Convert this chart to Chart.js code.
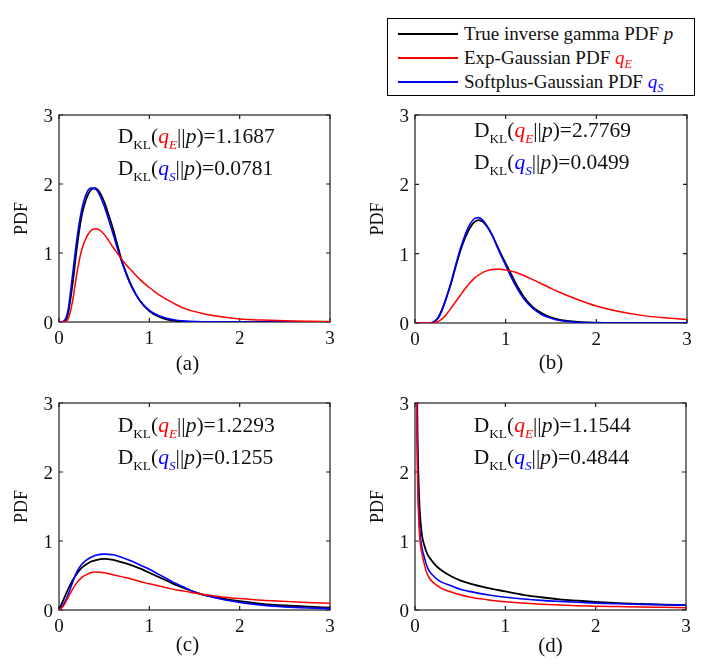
<!DOCTYPE html>
<html>
<head>
<meta charset="utf-8">
<title>Inverse gamma PDF approximations</title>
<script src="https://cdn.jsdelivr.net/npm/chart.js@4.4.0/dist/chart.umd.min.js"></script>
<style>
  body { margin: 0; width: 706px; height: 665px; position: relative; overflow: hidden; background: #fff; font-family: "Liberation Serif", "Times New Roman", serif; }
  canvas { position: absolute; }
  #leyenda { position: absolute; left: 387px; top: 18px; width: 308px; height: 78px; border: 1px solid #000; box-sizing: border-box; background: #fff; }
  .fila { position: absolute; left: 0; height: 24px; width: 100%; }
  .raya { position: absolute; left: 10px; top: 11px; width: 60px; height: 2px; }
  .etiqueta { position: absolute; left: 76px; top: 0; line-height: 24px; font-size: 19px; color: #111; white-space: nowrap; }
  .etiqueta i { font-style: italic; }
  .etiqueta sub { font-size: 0.65em; vertical-align: -0.3em; line-height: 0; }
</style>
</head>
<body>
<div id="leyenda"></div>
<script>
// ticks and labels
const ejeX = [0, 1, 2, 3];
const ejeY = [0, 1, 2, 3];
const paneles = ['(a)', '(b)', '(c)', '(d)'];
const klExp = [1.1687, 2.7769, 1.2293, 1.1544];
const klSoft = [0.0781, 0.0499, 0.1255, 0.4844];

// (a)
const xA = [0, 0.05, 0.1, 0.15, 0.2, 0.25, 0.3, 0.35, 0.4, 0.45, 0.5, 0.55, 0.6, 0.65, 0.7, 0.75, 0.8, 0.9, 1.0, 1.1, 1.2, 1.3, 1.4, 1.6, 1.8, 2.0, 2.25, 2.5, 2.75, 3.0];
const trueA = [0, 0, 0.12, 0.55, 1.1, 1.53, 1.78, 1.91, 1.94, 1.88, 1.74, 1.55, 1.34, 1.1, 0.87, 0.69, 0.53, 0.3, 0.16, 0.08, 0.035, 0.015, 0.006, 0.001, 0, 0, 0, 0, 0, 0];
const expA = [0, 0, 0.04, 0.3, 0.72, 1.04, 1.22, 1.32, 1.35, 1.33, 1.27, 1.18, 1.08, 0.99, 0.9, 0.82, 0.75, 0.61, 0.5, 0.4, 0.32, 0.25, 0.19, 0.12, 0.075, 0.045, 0.028, 0.017, 0.011, 0.007];
const softA = [0, 0.01, 0.17, 0.68, 1.22, 1.62, 1.85, 1.94, 1.93, 1.84, 1.68, 1.48, 1.27, 1.05, 0.85, 0.67, 0.52, 0.3, 0.17, 0.095, 0.05, 0.025, 0.012, 0.003, 0.001, 0, 0, 0, 0, 0];

// (b)
const xB = [0, 0.1, 0.15, 0.2, 0.25, 0.3, 0.35, 0.4, 0.45, 0.5, 0.55, 0.6, 0.65, 0.7, 0.75, 0.8, 0.85, 0.9, 0.95, 1.0, 1.05, 1.1, 1.2, 1.3, 1.4, 1.5, 1.6, 1.8, 2.0, 2.25, 2.5, 2.75, 3.0];
const trueB = [0, 0, 0, 0.01, 0.07, 0.2, 0.38, 0.58, 0.82, 1.04, 1.22, 1.36, 1.45, 1.485, 1.46, 1.38, 1.27, 1.13, 0.99, 0.86, 0.73, 0.6, 0.38, 0.23, 0.14, 0.08, 0.045, 0.015, 0.005, 0.001, 0, 0, 0];
const expB = [0, 0, 0, 0, 0.02, 0.06, 0.13, 0.22, 0.31, 0.4, 0.49, 0.57, 0.64, 0.69, 0.73, 0.755, 0.77, 0.776, 0.775, 0.765, 0.752, 0.735, 0.685, 0.625, 0.563, 0.5, 0.44, 0.335, 0.245, 0.165, 0.11, 0.075, 0.05];
const softB = [0, 0, 0, 0.01, 0.06, 0.19, 0.38, 0.6, 0.84, 1.07, 1.26, 1.41, 1.5, 1.52, 1.48, 1.39, 1.27, 1.12, 0.97, 0.83, 0.69, 0.56, 0.35, 0.21, 0.12, 0.07, 0.035, 0.008, 0.002, 0, 0, 0, 0];

// (c)
const xC = [0, 0.05, 0.1, 0.15, 0.2, 0.25, 0.3, 0.35, 0.4, 0.5, 0.6, 0.7, 0.8, 0.9, 1.0, 1.1, 1.2, 1.3, 1.4, 1.5, 1.6, 1.8, 2.0, 2.25, 2.5, 2.75, 3.0];
const trueC = [0, 0.15, 0.3, 0.43, 0.53, 0.61, 0.66, 0.7, 0.72, 0.74, 0.725, 0.69, 0.65, 0.6, 0.54, 0.48, 0.42, 0.36, 0.31, 0.26, 0.22, 0.17, 0.13, 0.09, 0.065, 0.048, 0.035];
const expC = [0, 0.06, 0.18, 0.3, 0.4, 0.47, 0.51, 0.54, 0.55, 0.54, 0.51, 0.48, 0.45, 0.41, 0.38, 0.35, 0.32, 0.29, 0.27, 0.245, 0.225, 0.19, 0.165, 0.14, 0.125, 0.11, 0.098];
const softC = [0, 0.08, 0.22, 0.4, 0.56, 0.66, 0.72, 0.76, 0.79, 0.81, 0.8, 0.76, 0.71, 0.65, 0.59, 0.52, 0.45, 0.38, 0.32, 0.26, 0.22, 0.155, 0.11, 0.07, 0.045, 0.03, 0.02];

// (d)
const xD = [0.012, 0.02, 0.03, 0.04, 0.05, 0.06, 0.08, 0.1, 0.13, 0.16, 0.2, 0.25, 0.3, 0.4, 0.5, 0.6, 0.8, 1.0, 1.2, 1.4, 1.6, 1.8, 2.0, 2.25, 2.5, 2.75, 3.0];
const trueD = [5, 3.4, 2.4, 1.85, 1.5, 1.3, 1.06, 0.95, 0.83, 0.76, 0.69, 0.62, 0.57, 0.49, 0.43, 0.385, 0.32, 0.27, 0.22, 0.185, 0.155, 0.135, 0.117, 0.1, 0.088, 0.078, 0.07];
const expD = [4.0, 2.7, 1.8, 1.35, 1.1, 0.95, 0.8, 0.68, 0.54, 0.46, 0.4, 0.35, 0.31, 0.26, 0.22, 0.19, 0.15, 0.118, 0.1, 0.085, 0.072, 0.063, 0.056, 0.05, 0.044, 0.039, 0.034];
const softD = [4.5, 3.0, 2.0, 1.5, 1.22, 1.05, 0.88, 0.78, 0.64, 0.56, 0.5, 0.44, 0.4, 0.35, 0.3, 0.27, 0.22, 0.185, 0.16, 0.14, 0.125, 0.112, 0.1, 0.09, 0.082, 0.076, 0.07];

const ROJO = '#ff0000';
const AZUL = '#0000ff';
const NEGRO = '#000000';
const FUENTE = '"Liberation Serif", "Times New Roman", serif';

// where each plot box sits on the page
const cajas = [
    { left: 59, top: 115, right: 330, bottom: 322, capDx: -7, capDy: 42, txtY: [2.70, 2.23] },
    { left: 415, top: 115, right: 687, bottom: 323, capDx: 0, capDy: 40, txtY: [2.78, 2.32] },
    { left: 59, top: 403, right: 330, bottom: 610, capDx: -7, capDy: 35, txtY: [2.68, 2.22] },
    { left: 415, top: 403, right: 686, bottom: 610, capDx: 0, capDy: 36, txtY: [2.68, 2.22] }
];

function armarLeyenda() {
    const filas = [
        { color: NEGRO, html: 'True inverse gamma PDF <i>p</i>' },
        { color: ROJO, html: 'Exp-Gaussian PDF <i style="color:' + ROJO + '">q<sub><i>E</i></sub></i>' },
        { color: AZUL, html: 'Softplus-Gaussian PDF <i style="color:' + AZUL + '">q<sub><i>S</i></sub></i>' }
    ];
    const caja = document.getElementById('leyenda');
    filas.forEach((f, i) => {
        const fila = document.createElement('div');
        fila.className = 'fila';
        fila.style.top = (3 + i * 24) + 'px';
        fila.innerHTML = '<div class="raya" style="background:' + f.color + '"></div><div class="etiqueta">' + f.html + '</div>';
        caja.appendChild(fila);
    });
}

function textoRico(ctx, partes, x, yBase, size) {
    let px = x;
    partes.forEach(p => {
        const s = p.sub ? size * 0.62 : size;
        ctx.font = (p.it ? 'italic ' : '') + s + 'px ' + FUENTE;
        ctx.fillStyle = p.color || '#111';
        ctx.fillText(p.t, px, yBase + (p.sub ? size * 0.27 : 0));
        px += ctx.measureText(p.t).width;
    });
}

// box and inward ticks like matlab
const marco = {
    id: 'marco',
    beforeDatasetsDraw(chart) {
        const { ctx, chartArea: a, scales: { x, y } } = chart;
        ctx.save();
        ctx.strokeStyle = '#1e1e1e';
        ctx.lineWidth = 1.2;
        ctx.strokeRect(a.left, a.top, a.width, a.height);
        ctx.beginPath();
        ejeX.forEach(v => {
            const px = x.getPixelForValue(v);
            ctx.moveTo(px, a.bottom); ctx.lineTo(px, a.bottom - 4);
            ctx.moveTo(px, a.top); ctx.lineTo(px, a.top + 4);
        });
        ejeY.forEach(v => {
            const py = y.getPixelForValue(v);
            ctx.moveTo(a.left, py); ctx.lineTo(a.left + 4, py);
            ctx.moveTo(a.right, py); ctx.lineTo(a.right - 4, py);
        });
        ctx.stroke();
        ctx.restore();
    }
};

const anotaciones = {
    id: 'anotaciones',
    afterDraw(chart) {
        const i = chart.options.plugins.anotaciones.indice;
        const c = cajas[i];
        const { ctx, chartArea: a, scales: { x, y } } = chart;
        const size = 21.5;
        const lineaE = [
            { t: 'D' }, { t: 'KL', sub: true }, { t: '(' },
            { t: 'q', it: true, color: ROJO }, { t: 'E', it: true, sub: true, color: ROJO },
            { t: '||' }, { t: 'p', it: true }, { t: ')=' + klExp[i].toFixed(4) }
        ];
        const lineaS = [
            { t: 'D' }, { t: 'KL', sub: true }, { t: '(' },
            { t: 'q', it: true, color: AZUL }, { t: 'S', it: true, sub: true, color: AZUL },
            { t: '||' }, { t: 'p', it: true }, { t: ')=' + klSoft[i].toFixed(4) }
        ];
        ctx.save();
        ctx.textBaseline = 'alphabetic';
        ctx.textAlign = 'left';
        const x0 = x.getPixelForValue(0.65);
        textoRico(ctx, lineaE, x0, y.getPixelForValue(c.txtY[0]) + size * 0.33, size);
        textoRico(ctx, lineaS, x0, y.getPixelForValue(c.txtY[1]) + size * 0.33, size);

        // panel caption
        ctx.font = '21px ' + FUENTE;
        ctx.fillStyle = '#111';
        ctx.textAlign = 'center';
        ctx.textBaseline = 'middle';
        ctx.fillText(paneles[i], (a.left + a.right) / 2 + c.capDx, a.bottom + c.capDy);
        ctx.restore();
    }
};

function serie(xs, ys, color, ancho) {
    return {
        data: xs.map((v, k) => ({ x: v, y: ys[k] })),
        borderColor: color,
        borderWidth: ancho,
        pointRadius: 0,
        fill: false,
        cubicInterpolationMode: 'monotone'
    };
}

function crearPanel(i, xs, verdadera, expG, softG) {
    const c = cajas[i];
    const cx = c.left - 59;
    const cy = c.top - 20;
    const w = c.right - cx + 20;
    const h = c.bottom - cy + 60;
    const canvas = document.createElement('canvas');
    canvas.width = w;
    canvas.height = h;
    canvas.style.left = cx + 'px';
    canvas.style.top = cy + 'px';
    canvas.style.width = w + 'px';
    canvas.style.height = h + 'px';
    document.body.appendChild(canvas);

    const ticksFont = { family: FUENTE, size: 19 };

    new Chart(canvas.getContext('2d'), {
        type: 'line',
        data: {
            datasets: [
                serie(xs, expG, ROJO, 1.5),
                serie(xs, softG, AZUL, 1.6),
                serie(xs, verdadera, NEGRO, 1.8)
            ]
        },
        options: {
            responsive: false,
            animation: false,
            layout: { padding: { left: 0, top: 20, right: 20, bottom: 0 } },
            plugins: {
                legend: { display: false },
                tooltip: { enabled: false },
                anotaciones: { indice: i }
            },
            scales: {
                x: {
                    type: 'linear', min: 0, max: 3,
                    grid: { display: false, drawTicks: false },
                    border: { display: false },
                    afterBuildTicks: s => { s.ticks = ejeX.map(v => ({ value: v })); },
                    ticks: { padding: 6, color: '#111', font: ticksFont, maxRotation: 0 },
                    afterFit: s => { s.height = 60; }
                },
                y: {
                    type: 'linear', min: 0, max: 3,
                    grid: { display: false, drawTicks: false },
                    border: { display: false },
                    afterBuildTicks: s => { s.ticks = ejeY.map(v => ({ value: v })); },
                    ticks: { padding: 6, labelOffset: 2, color: '#111', font: ticksFont },
                    title: { display: true, text: 'PDF', color: '#111', font: { family: FUENTE, size: 18 }, padding: { top: 11, bottom: 0 } },
                    afterFit: s => { s.width = 59; }
                }
            }
        },
        plugins: [marco, anotaciones]
    });
}

armarLeyenda();
crearPanel(0, xA, trueA, expA, softA);
crearPanel(1, xB, trueB, expB, softB);
crearPanel(2, xC, trueC, expC, softC);
crearPanel(3, xD, trueD, expD, softD);
</script>
</body>
</html>
